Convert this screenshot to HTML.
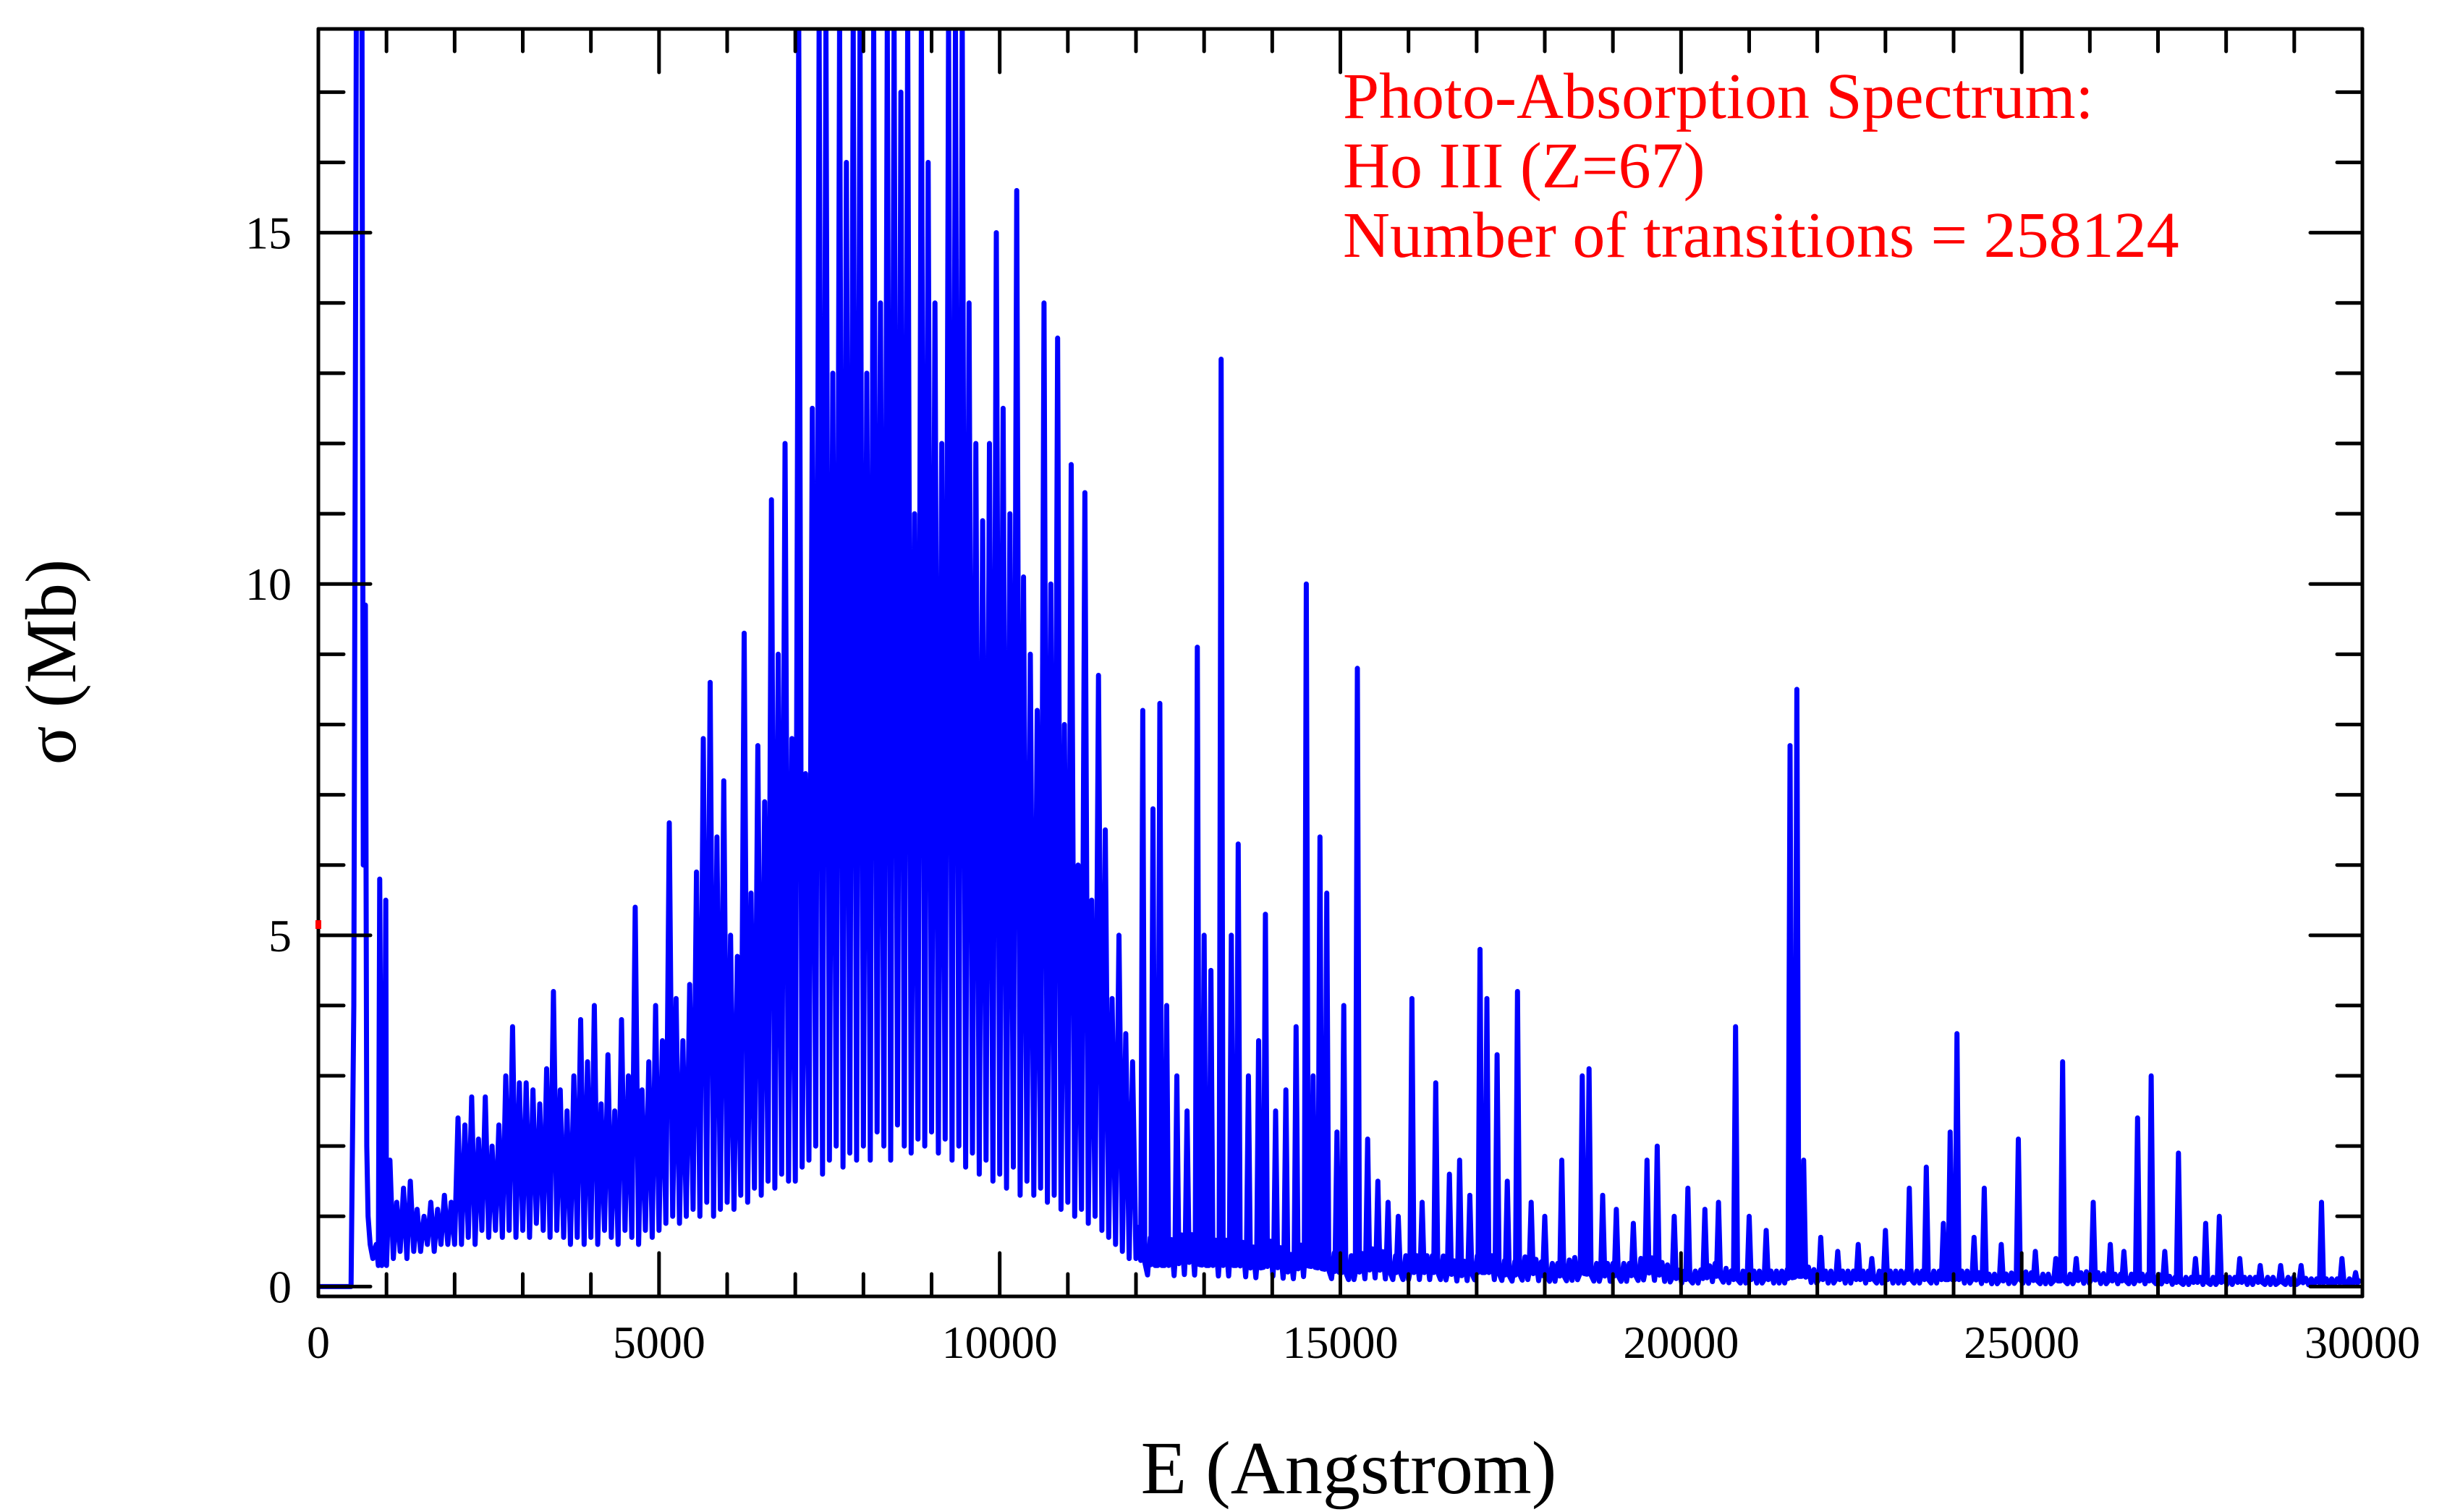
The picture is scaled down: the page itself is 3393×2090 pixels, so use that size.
<!DOCTYPE html>
<html><head><meta charset="utf-8"><style>
html,body{margin:0;padding:0;background:#fff;}
svg{display:block;font-family:"Liberation Serif",serif;}
</style></head><body>
<svg id="chart" width="3393" height="2090" viewBox="0 0 3393 2090" xmlns="http://www.w3.org/2000/svg">
<defs><clipPath id="clip"><rect x="440" y="40" width="2825" height="1752"/></clipPath></defs>
<g id="series" clip-path="url(#clip)"></g>
<g id="axes"></g>
<rect x="436" y="1272" width="8" height="12" fill="#ff0000"/>
<text x="1864" y="2064" font-size="104" text-anchor="middle">E (Angstrom)</text>
<text transform="translate(104,915) rotate(-90)" font-size="100" text-anchor="middle">σ (Mb)</text>
<g fill="#ff0000" font-size="90">
<text x="1856" y="163">Photo-Absorption Spectrum:</text>
<text x="1856" y="259">Ho III (Z=67)</text>
<text x="1856" y="355">Number of transitions = 258124</text>
</g>
</svg>
<script>
const earlyX=[0,480,520,560,600,640,660,690,710,730,760,800,850,880,900,930,960,990];
const earlySigma=[0,0,4,19,19,18,6,9.7,2,1,0.6,0.4,0.6,0.3,5.8,0.3,0.5,5.5];
const denseStart=1000, denseStep=50;
const denseSigma=[
0.3,1.8,0.4,1.2,0.5,1.4,0.4,1.5,0.5,1.1,0.5,1.0,0.6,1.2,0.5,1.1,0.6,1.3,0.6,1.2,
0.6,2.4,0.6,2.3,0.7,2.7,0.6,2.1,0.8,2.7,0.7,2.0,0.8,2.3,0.7,3.0,0.8,3.7,0.7,2.9,
0.8,2.9,0.7,2.8,0.9,2.6,0.8,3.1,0.7,4.2,0.8,2.8,0.7,2.5,0.6,3.0,0.7,3.8,0.6,3.2,
0.7,4.0,0.6,2.6,0.8,3.3,0.7,2.5,0.6,3.8,0.8,3.0,0.7,5.4,0.6,2.8,0.8,3.2,0.7,4.0,
0.8,3.5,0.9,6.6,1.0,4.1,0.9,3.5,1.0,4.3,1.1,5.9,1.0,7.8,1.2,8.6,1.0,6.4,1.1,7.2,
1.2,5.0,1.1,4.7,1.3,9.3,1.2,5.6,1.4,7.7,1.3,6.9,1.5,11.2,1.4,9.0,1.6,12.0,1.5,7.8,
1.5,18,1.7,7.3,1.8,12.5,2.0,18,1.6,18,1.8,13,2.0,18,1.7,16,1.9,18,1.8,18,
2.0,13,1.8,18,2.2,14,2.0,18,1.8,18,2.3,17,2.0,18,1.9,11,2.1,18,2.0,16,
2.2,14,1.9,12,2.1,18,1.8,18,2.0,18,1.7,14,1.9,12,1.6,10.9,1.8,12,1.5,15,
1.6,12.5,1.4,11,1.7,15.6,1.3,10.1,1.5,9,1.3,8.2,1.4,14,1.2,10,1.3,13.5,1.1,8,
1.2,11.7,1.0,6,1.1,11.3,0.9,5.5,1.0,8.7,0.8,6.5,0.7,4.1,0.6,5,0.5,3.6,0.4,3.2,0.4];
const bgStart=12000, bgStep=250;
const bgSigma=[0.4,0.3,0.3,0.35,0.3,0.3,0.3,0.25,0.3,0.2,0.3,0.25,0.2,0.2,0.25,0.2,0.2,0.2,0.2,0.15,0.2,0.2,0.15,0.2,0.15,0.15,0.2,0.15,0.15,0.15,0.2,0.15,0.1,0.1,0.15,0.1,0.1,0.1,0.1,0.15,0.1,0.1,0.1,0.1,0.1,0.1,0.1,0.1,0.1,0.1,0.08,0.08,0.1,0.08,0.08,0.08,0.1,0.08,0.08,0.08,0.08,0.06,0.06,0.06,0.06,0.06,0.06,0.06,0.06,0.05,0.05,0.05,0.05];
const linePos=[12100,12250,12350,12450,12600,12750,12900,13000,13100,13250,13400,13500,13650,13800,13900,14050,14200,14350,14500,14600,14700,14800,14950,15050,15250,15400,15550,15700,15850,16050,16200,16400,16600,16750,16900,17050,17150,17300,17450,17600,17800,18000,18250,18550,18650,18850,19050,19300,19500,19650,19900,20100,20350,20550,20800,21000,21250,21600,21700,21800,22050,22300,22600,22800,23000,23350,23600,23850,23950,24050,24300,24450,24700,24950,25200,25500,25600,25800,26050,26300,26500,26700,26900,27100,27300,27550,27700,27900,28200,28500,28800,29100,29400,29700,29900];
const lineSigma=[8.2,6.8,8.3,4,3,2.5,9.1,5,4.5,13.2,5,6.3,3,3.5,5.3,2.5,2.8,3.7,10,3,6.4,5.6,2.2,4,8.8,2.1,1.5,1.2,1.0,4.1,1.2,2.9,1.6,1.8,1.3,4.8,4.1,3.3,1.5,4.2,1.2,1.0,1.8,3.0,3.1,1.3,1.1,0.9,1.8,2.0,1.0,1.4,1.1,1.2,3.7,1.0,0.8,7.7,8.5,1.8,0.7,0.5,0.6,0.4,0.8,1.4,1.7,0.9,2.2,3.6,0.7,1.4,0.6,2.1,0.5,0.4,3.2,0.4,1.2,0.6,0.5,2.4,3.0,0.5,1.9,0.4,0.9,1.0,0.4,0.3,0.3,0.3,1.2,0.4,0.2];
const xTicks=[0,5000,10000,15000,20000,25000,30000];
const yTicks=[0,5,10,15];

const L=440,R=3265,T=40,B=1792, xMin=0,xMax=30000,yMin=-0.14,yMax=17.9;
const sx=v=>L+(v-xMin)/(xMax-xMin)*(R-L);
const sy=v=>B-(v-yMin)/(yMax-yMin)*(B-T);
const NS="http://www.w3.org/2000/svg";
function bg(x){const f=(x-bgStart)/bgStep;const i=Math.max(0,Math.min(bgSigma.length-2,Math.floor(f)));const t=Math.min(1,Math.max(0,f-i));return bgSigma[i]*(1-t)+bgSigma[i+1]*t;}
let pts=[];
earlyX.forEach((x,i)=>pts.push([x,earlySigma[i]]));
denseSigma.forEach((v,i)=>pts.push([denseStart+i*denseStep,v]));
let last=denseStart+(denseSigma.length-1)*denseStep;
linePos.forEach((p,i)=>{
  const a=p-30;
  for(let x=last+40;x<a;x+=40){pts.push([x,bg(x)*((Math.round(x/40)%2)?2.2:0.5)]);}
  pts.push([a,bg(a)]);pts.push([p,lineSigma[i]]);pts.push([p+30,bg(p+30)]);
  last=p+30;
});
for(let x=last+40;x<=30000;x+=40){pts.push([x,bg(x)*((Math.round(x/40)%2)?2.2:0.5)]);}
const path=document.createElementNS(NS,'path');
path.setAttribute('d','M'+pts.map(p=>sx(p[0]).toFixed(1)+','+sy(p[1]).toFixed(1)).join('L'));
path.setAttribute('fill','none');path.setAttribute('stroke','#0000ff');path.setAttribute('stroke-width','7');path.setAttribute('stroke-linejoin','round');


document.getElementById('series').appendChild(path);

const ax=document.getElementById('axes');
function line(x1,y1,x2,y2,w,name){const l=document.createElementNS(NS,'line');l.setAttribute('x1',x1);l.setAttribute('y1',y1);l.setAttribute('x2',x2);l.setAttribute('y2',y2);l.setAttribute('stroke','#000');l.setAttribute('stroke-width',w);l.setAttribute('stroke-linecap','round');


ax.appendChild(l);}
function text(x,y,s,anchor,name){const t=document.createElementNS(NS,'text');t.setAttribute('x',x);t.setAttribute('y',y);t.setAttribute('font-size','64');t.setAttribute('text-anchor',anchor);t.textContent=s;


ax.appendChild(t);}
for(let v=0;v<=30000;v+=1000){const x=sx(v);const len=(v%5000===0)?60:31;line(x,B,x,B-len,5,'x-tick');line(x,T,x,T+len,5,'x-tick-top');}
for(let v=0;v<=17;v++){const y=sy(v);const len=(v%5===0)?72:35;line(L,y,L+len,y,5,'y-tick');line(R,y,R-len,y,5,'y-tick-right');}
line(L,T,R,T,5,'plot-frame-top');line(L,B,R,B,5,'x-axis-line');line(L,T,L,B,5,'y-axis-line');line(R,T,R,B,5,'plot-frame-right');
xTicks.forEach(v=>text(sx(v),1877,String(v),'middle','x-tick-label'));
yTicks.forEach(v=>text(403,sy(v)+22,String(v),'end','y-tick-label'));
</script>
</body></html>
